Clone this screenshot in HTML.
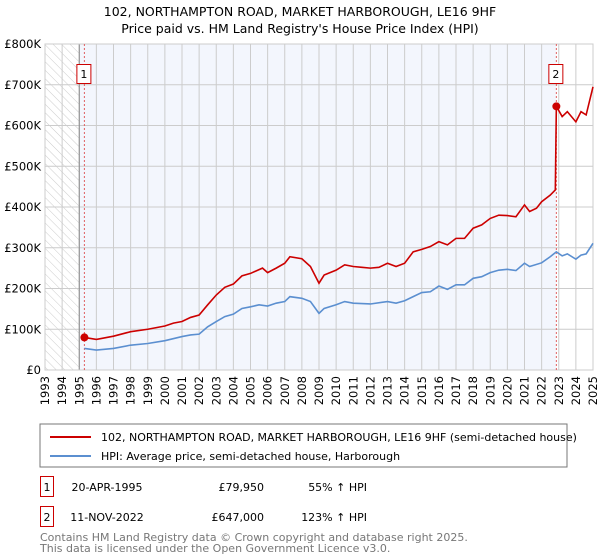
<!DOCTYPE html>
<html><head><meta charset="utf-8">
<style>
body{margin:0;background:#fff;font-family:"Liberation Sans","DejaVu Sans",sans-serif;}
#wrap{position:relative;width:600px;height:560px;overflow:hidden;}
svg text{font-family:"DejaVu Sans","Liberation Sans",sans-serif;}
</style></head>
<body>
<div id="wrap">
<svg id="chart" width="600" height="560">
<defs>
<pattern id="hatch" width="6" height="6" patternUnits="userSpaceOnUse" patternTransform="rotate(-45)">
<line x1="0" y1="0" x2="0" y2="6" stroke="#ccc" stroke-width="1"/>
</pattern>
</defs>
<text x="300" y="16" text-anchor="middle" font-size="12.5" fill="#000">102, NORTHAMPTON ROAD, MARKET HARBOROUGH, LE16 9HF</text>
<text x="300" y="33" text-anchor="middle" font-size="12.5" fill="#000">Price paid vs. HM Land Registry's House Price Index (HPI)</text>
<g id="plot"></g>
<rect x="40" y="424" width="527" height="43" fill="#fff" stroke="#777"/>
<line x1="50" y1="437" x2="91" y2="437" stroke="#cc0000" stroke-width="2"/>
<text x="101" y="441" font-size="11">102, NORTHAMPTON ROAD, MARKET HARBOROUGH, LE16 9HF (semi-detached house)</text>
<line x1="50" y1="456" x2="91" y2="456" stroke="#5b8fd0" stroke-width="2"/>
<text x="101" y="460" font-size="11">HPI: Average price, semi-detached house, Harborough</text>
<g>
<rect x="40.5" y="476.5" width="13" height="20" fill="none" stroke="#cc0000"/>
<text x="47" y="491" text-anchor="middle" font-size="11">1</text>
<text x="107" y="491" text-anchor="middle" font-size="11">20-APR-1995</text>
<text x="264" y="491" text-anchor="end" font-size="11">£79,950</text>
<text x="367" y="491" text-anchor="end" font-size="11">55% ↑ HPI</text>
</g>
<g>
<rect x="40.5" y="506.5" width="13" height="20" fill="none" stroke="#cc0000"/>
<text x="47" y="521" text-anchor="middle" font-size="11">2</text>
<text x="107" y="521" text-anchor="middle" font-size="11">11-NOV-2022</text>
<text x="264" y="521" text-anchor="end" font-size="11">£647,000</text>
<text x="367" y="521" text-anchor="end" font-size="11">123% ↑ HPI</text>
</g>
<text x="40" y="541" font-size="11" fill="#777">Contains HM Land Registry data © Crown copyright and database right 2025.</text>
<text x="40" y="552" font-size="11" fill="#777">This data is licensed under the Open Government Licence v3.0.</text>
</svg>
</div>
<script>
const yTicks=[0,100,200,300,400,500,600,700,800];
const yTickLabels=["£0","£100K","£200K","£300K","£400K","£500K","£600K","£700K","£800K"];
const years=[1993,1994,1995,1996,1997,1998,1999,2000,2001,2002,2003,2004,2005,2006,2007,2008,2009,2010,2011,2012,2013,2014,2015,2016,2017,2018,2019,2020,2021,2022,2023,2024,2025];
const propT=[1995.3,1996,1997,1998,1999,2000,2000.5,2001,2001.5,2002,2002.5,2003,2003.5,2004,2004.5,2005,2005.7,2006,2006.5,2007,2007.3,2008,2008.5,2009,2009.3,2010,2010.5,2011,2011.5,2012,2012.5,2013,2013.5,2014,2014.5,2015,2015.5,2016,2016.5,2017,2017.5,2018,2018.5,2019,2019.5,2020,2020.5,2021,2021.3,2021.7,2022,2022.5,2022.8,2022.86,2023.2,2023.5,2024,2024.3,2024.6,2025];
const propV=[80,75,83,94,100,108,115,119,129,135,160,184,203,211,231,237,250,239,250,262,278,273,254,213,233,245,258,254,252,250,252,262,254,262,290,296,303,315,307,323,323,348,356,372,380,379,376,405,389,397,413,429,442,647,622,634,609,634,626,695];
const hpiT=[1995.3,1996,1997,1998,1999,2000,2001,2001.5,2002,2002.5,2003,2003.5,2004,2004.5,2005,2005.5,2006,2006.5,2007,2007.3,2008,2008.5,2009,2009.3,2010,2010.5,2011,2012,2013,2013.5,2014,2014.5,2015,2015.5,2016,2016.5,2017,2017.5,2018,2018.5,2019,2019.5,2020,2020.5,2021,2021.3,2022,2022.5,2022.86,2023.2,2023.5,2024,2024.3,2024.6,2025];
const hpiV=[53,49,53,61,65,72,82,86,88,106,119,131,137,151,155,160,157,164,168,180,176,168,139,151,160,168,164,162,168,164,170,180,190,192,206,198,209,209,225,229,239,245,247,244,262,254,263,278,290,280,285,272,282,285,311];
const saleT=[1995.3,2022.86];
const saleV=[79.95,647];
const saleLabels=["1","2"];

const X0=45,X1=593,Y0=370,Y1=44;
const xs=t=>X0+(t-1993)/(2025-1993)*(X1-X0);
const ys=v=>Y0-v/800*(Y0-Y1);
const NS="http://www.w3.org/2000/svg";
const g=document.getElementById('plot');
function mk(tag,attrs){const e=document.createElementNS(NS,tag);for(const k in attrs)e.setAttribute(k,attrs[k]);g.appendChild(e);return e;}

let e=mk('rect',{x:xs(1995),y:Y1,width:xs(saleT[1])-xs(1995),height:Y0-Y1,fill:'#f3f6fd'});


e=mk('rect',{x:X0,y:Y1,width:xs(1995)-X0,height:Y0-Y1,fill:'url(#hatch)'});


years.forEach(yr=>{
  const l=mk('line',{x1:xs(yr),x2:xs(yr),y1:Y1,y2:Y0,stroke:'#ccc','stroke-width':1});
  
  
  const t=mk('text',{x:0,y:0,'font-size':11.5,'text-anchor':'end',transform:`translate(${xs(yr)+4},${Y0+6}) rotate(-90)`});
  t.textContent=yr;
  
  
});
yTicks.forEach((v,i)=>{
  const l=mk('line',{x1:X0,x2:X1,y1:ys(v),y2:ys(v),stroke:'#ccc','stroke-width':1});
  
  
  const t=mk('text',{x:X0-4,y:ys(v)+4,'font-size':11.5,'text-anchor':'end'});
  t.textContent=yTickLabels[i];
  
  
});
e=mk('line',{x1:xs(1995),x2:xs(1995),y1:Y1,y2:Y0,stroke:'#888','stroke-width':1});


e=mk('rect',{x:X0,y:Y1,width:X1-X0,height:Y0-Y1,fill:'none',stroke:'#ccc'});


saleT.forEach((t,i)=>{
  const l=mk('line',{x1:xs(t),x2:xs(t),y1:Y1,y2:Y0,stroke:'#e06060','stroke-dasharray':'2,2','stroke-width':1});
  
  
  const r=mk('rect',{x:xs(t)-7.5,y:64.5,width:14,height:19,fill:'#fff',stroke:'#cc0000'});
  
  
  const tx=mk('text',{x:xs(t)-0.5,y:78,'font-size':11,'text-anchor':'middle'});
  tx.textContent=saleLabels[i];
  
  
});
e=mk('polyline',{points:hpiT.map((t,i)=>xs(t)+','+ys(hpiV[i])).join(' '),fill:'none',stroke:'#5b8fd0','stroke-width':1.6});


e=mk('polyline',{points:propT.map((t,i)=>xs(t)+','+ys(propV[i])).join(' '),fill:'none',stroke:'#cc0000','stroke-width':1.6});


saleT.forEach((t,i)=>{
  const c=mk('circle',{cx:xs(t),cy:ys(saleV[i]),r:4,fill:'#cc0000'});
  
  
});
</script>
</body></html>
